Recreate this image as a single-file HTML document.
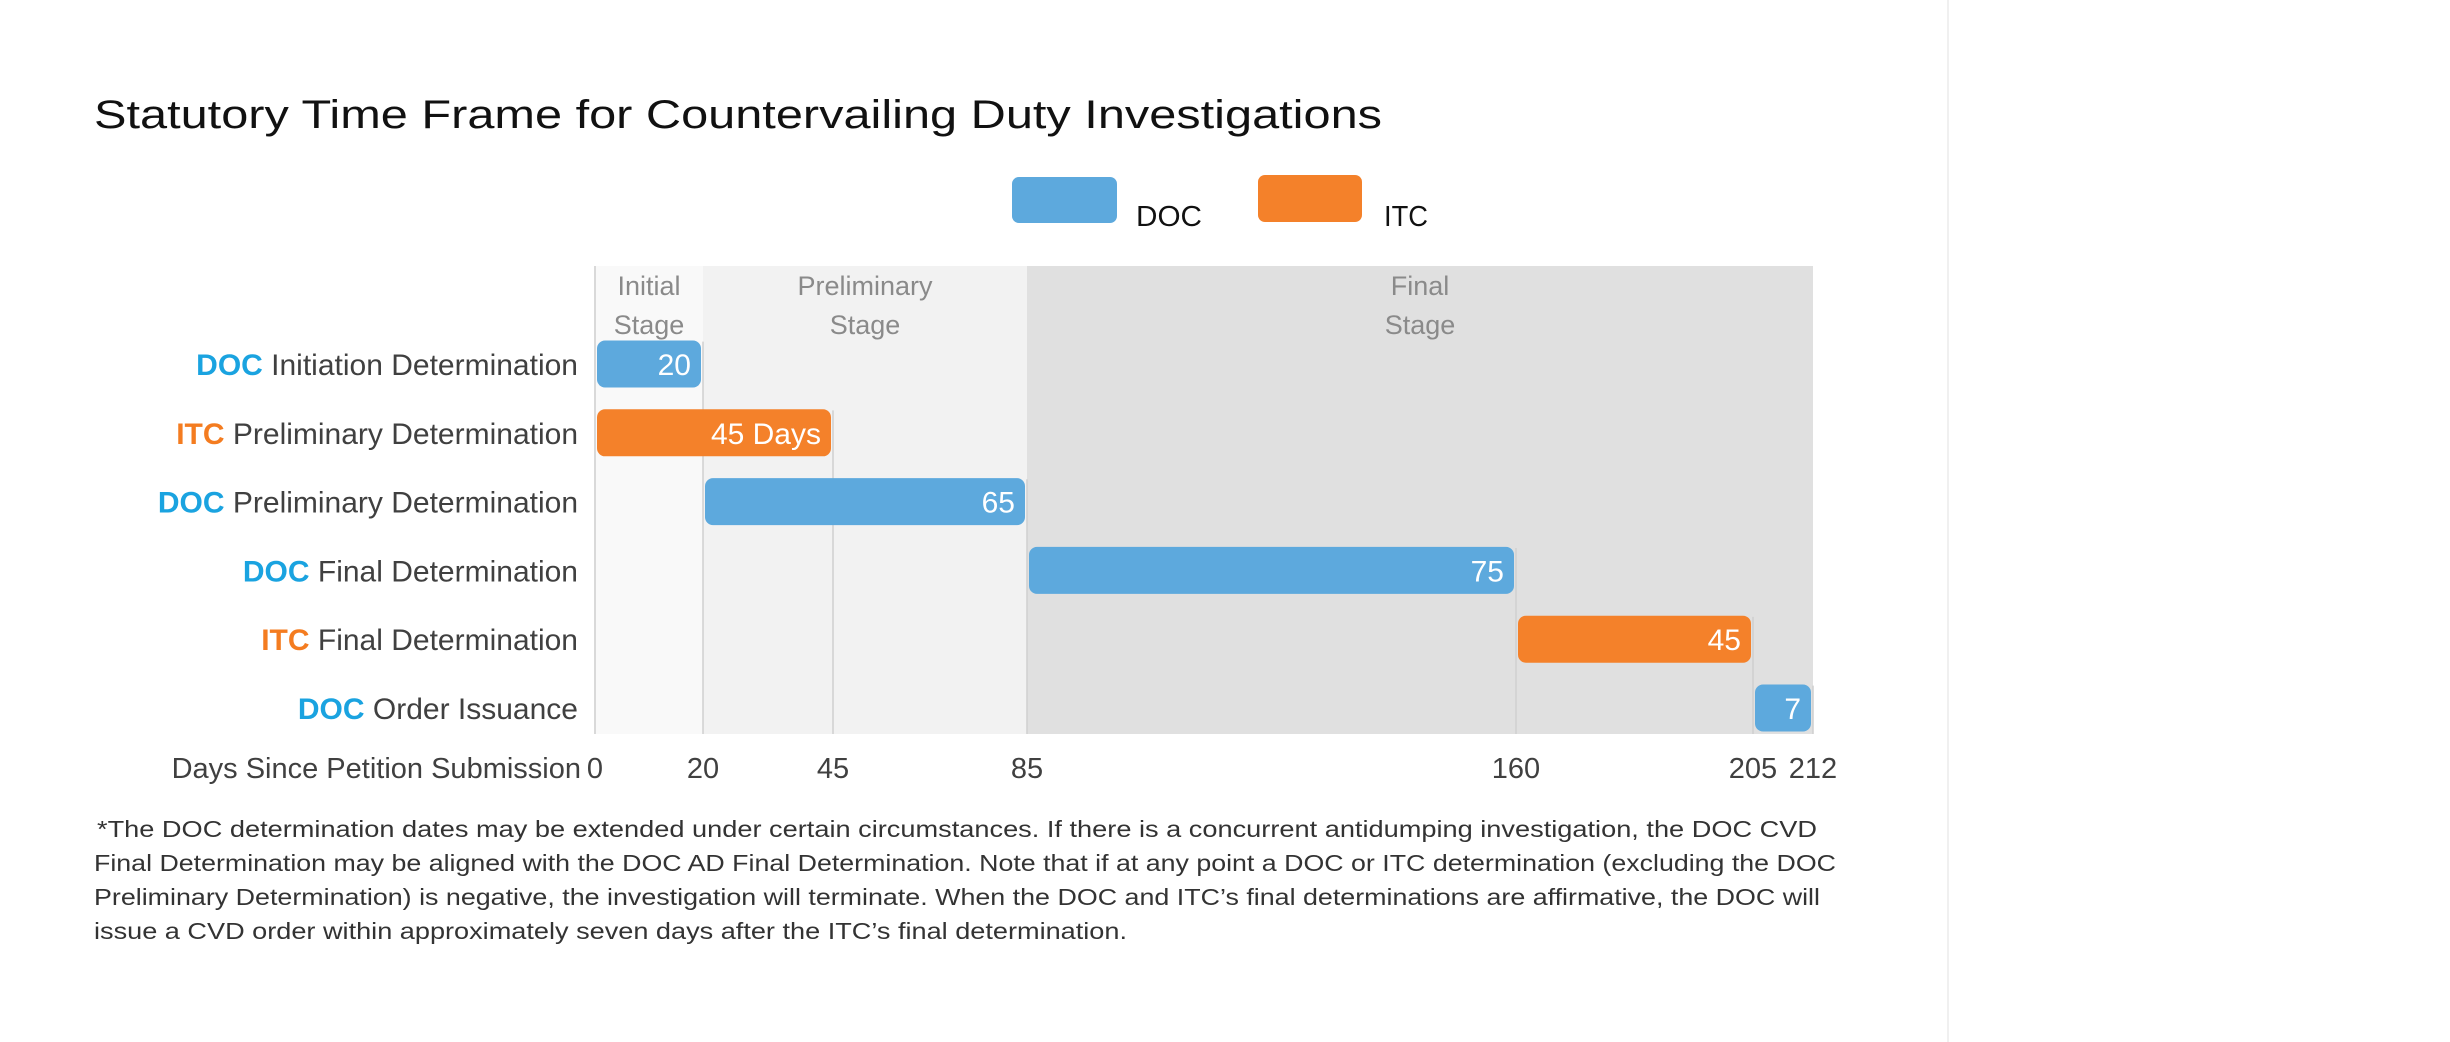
<!DOCTYPE html>
<html><head><meta charset="utf-8"><style>
html,body{margin:0;padding:0;background:#fff;}
svg{display:block;font-family:"Liberation Sans",sans-serif;}
</style></head><body>
<svg id="chart" width="2450" height="1042" viewBox="0 0 2450 1042">
  <rect x="0" y="0" width="2450" height="1042" fill="#fff"/>
  <line x1="1948" y1="0" x2="1948" y2="1042" stroke="#f0f0f0" stroke-width="2"/>
  <text x="94" y="128" font-size="40" fill="#111" textLength="1288" lengthAdjust="spacingAndGlyphs">Statutory Time Frame for Countervailing Duty Investigations</text>
  <g>
    <rect x="1012" y="177" width="105" height="46" rx="7" fill="#5DA9DD"/>
    <text x="1136" y="226" font-size="29" fill="#111" textLength="66" lengthAdjust="spacingAndGlyphs">DOC</text>
    <rect x="1258" y="175" width="104" height="47" rx="7" fill="#F4812A"/>
    <text x="1384" y="226" font-size="29" fill="#111" textLength="44" lengthAdjust="spacingAndGlyphs">ITC</text>
  </g>
  <g id="plot"></g>
  <g font-size="23" fill="#333">
    <text x="97" y="837" textLength="1720" lengthAdjust="spacingAndGlyphs">*The DOC determination dates may be extended under certain circumstances. If there is a concurrent antidumping investigation, the DOC CVD</text>
    <text x="94" y="871" textLength="1742" lengthAdjust="spacingAndGlyphs">Final Determination may be aligned with the DOC AD Final Determination. Note that if at any point a DOC or ITC determination (excluding the DOC</text>
    <text x="94" y="905" textLength="1726" lengthAdjust="spacingAndGlyphs">Preliminary Determination) is negative, the investigation will terminate. When the DOC and ITC’s final determinations are affirmative, the DOC will</text>
    <text x="94" y="939" textLength="1033" lengthAdjust="spacingAndGlyphs">issue a CVD order within approximately seven days after the ITC’s final determination.</text>
  </g>
</svg>
<script>
const categories = ["Initiation Determination","Preliminary Determination","Preliminary Determination","Final Determination","Final Determination","Order Issuance"];
const agencies = ["DOC","ITC","DOC","DOC","ITC","DOC"];
const startDays = [0, 0, 20, 85, 160, 205];
const durations = [20, 45, 65, 75, 45, 7];
const valueLabels = ["20","45 Days","65","75","45","7"];
const tickValues = [0, 20, 45, 85, 160, 205, 212];
const stageNames = [["Initial","Stage"],["Preliminary","Stage"],["Final","Stage"]];
const stageBounds = [0, 20, 85, 212];

// axis (piecewise, matching the reference's non-uniform axis)
const axisDomain = [0, 20, 45, 85, 160, 205, 212];
const axisRange = [595, 703, 833, 1027, 1516, 1753, 1813];
function x(d){
  for(let i=0;i<axisDomain.length-1;i++){
    if(d<=axisDomain[i+1]){const t=(d-axisDomain[i])/(axisDomain[i+1]-axisDomain[i]);return axisRange[i]+t*(axisRange[i+1]-axisRange[i]);}
  }
  const n=axisDomain.length-1;return axisRange[n]+(d-axisDomain[n])*(axisRange[n]-axisRange[n-1])/(axisDomain[n]-axisDomain[n-1]);
}
const plotTop=266, plotBottom=734, rowTop0=364, rowStep=68.8, barH=47;
function y(i){return rowTop0+i*rowStep;}
const colors={DOC:"#5DA9DD",ITC:"#F4812A"};
const labelColors={DOC:"#1AA3E0",ITC:"#F47C20"};
const NS="http://www.w3.org/2000/svg";
const g=document.getElementById('plot');
function mk(tag,attrs,parent){const e=document.createElementNS(NS,tag);for(const k in attrs)e.setAttribute(k,attrs[k]);(parent||g).appendChild(e);return e;}

const stageFills=["#F9F9F9","#F2F2F2","#E0E0E0"];
for(let s=0;s<stageNames.length;s++){
  const x0=x(stageBounds[s]), x1=x(stageBounds[s+1]);
  const r=mk('rect',{x:x0,y:plotTop,width:x1-x0,height:plotBottom-plotTop,fill:stageFills[s]});
  
  
  const cx=(x0+x1)/2;
  for(let k=0;k<2;k++){
    const t=mk('text',{x:cx,y:plotTop+29+k*39,'font-size':27,fill:'#8a8a8a','text-anchor':'middle'});
    t.textContent=stageNames[s][k];
    
    
  }
}
// axis line left
const al=mk('line',{x1:x(0),y1:plotTop,x2:x(0),y2:plotBottom,stroke:'#d9d9d9','stroke-width':2});


// gridlines at bar ends
for(let i=0;i<categories.length;i++){
  const end=startDays[i]+durations[i];
  const gl=mk('line',{x1:x(end),y1:y(i)-rowStep/2+12,x2:x(end),y2:plotBottom,stroke:'#cfcfcf','stroke-width':1.5});
  
  
}
for(let i=0;i<categories.length;i++){
  const x0=x(startDays[i]), x1=x(startDays[i]+durations[i]);
  const b=mk('rect',{x:x0+2,y:y(i)-barH/2,width:x1-x0-4,height:barH,rx:8,fill:colors[agencies[i]]});
  
  
  const v=mk('text',{x:x1-12,y:y(i)+11,'font-size':30,fill:'#fff','text-anchor':'end'});
  v.textContent=valueLabels[i];
  
  
  const lab=mk('text',{x:578,y:y(i)+11,'font-size':30,fill:'#404040','text-anchor':'end'});
  const a=mk('tspan',{fill:labelColors[agencies[i]],'font-weight':'bold'},lab);a.textContent=agencies[i];
  const c=mk('tspan',{},lab);c.textContent=' '+categories[i];
  
  
}
for(const tv of tickValues){
  const t=mk('text',{x:x(tv),y:778,'font-size':29,fill:'#404040','text-anchor':'middle'});
  t.textContent=String(tv);
  
  
}
const xt=mk('text',{x:581,y:778,'font-size':29,fill:'#404040','text-anchor':'end'});
xt.textContent='Days Since Petition Submission';


</script>
</body></html>
